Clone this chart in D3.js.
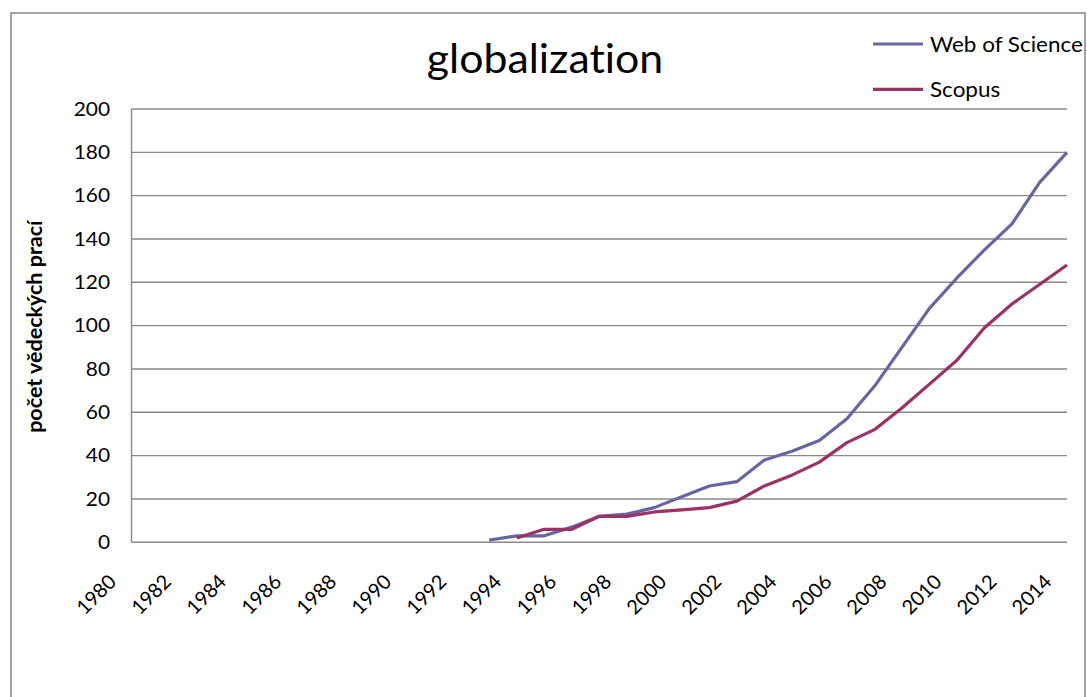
<!DOCTYPE html>
<html>
<head>
<meta charset="utf-8">
<script src="https://cdn.jsdelivr.net/npm/d3@7"></script>
<style>
  html, body { margin: 0; padding: 0; background: #fff; }
  svg { display: block; }
  text { font-family: Lato, "Open Sans", sans-serif; fill: #000; font-variant-ligatures: none; }
</style>
</head>
<body>
<svg id="chart" width="1087" height="697"></svg>
<script>
// Publication counts per year, 1980–2014 (null = no records that year)
const years = d3.range(1980, 2015);
const webOfScience = [
  null, null, null, null, null, null, null, null, null, null,
  null, null, null, 1, 3, 3, 7, 12, 13, 16,
  21, 26, 28, 38, 42, 47, 57, 72, 90, 108,
  122, 135, 147, 166, 180
];
const scopus = [
  null, null, null, null, null, null, null, null, null, null,
  null, null, null, null, 2, 6, 6, 12, 12, 14,
  15, 16, 19, 26, 31, 37, 46, 52, 62, 73,
  84, 99, 110, 119, 128
];
const yTicks = [0, 20, 40, 60, 80, 100, 120, 140, 160, 180, 200];
const xLabelYears = years.filter(y => (y - 1980) % 2 === 0);

const seriesNames = ["Web of Science", "Scopus"];
const seriesColors = ["#6666a3", "#9b3167"];
const seriesValues = [webOfScience, scopus];

const svg = d3.select("#chart");
const plot = { left: 131.5, right: 1067, top: 109, bottom: 542.3 };

// outer chart frame
svg.append("rect")
  .attr("x", 11).attr("y", 13)
  .attr("width", 1074).attr("height", 720)
  .attr("fill", "#fff")
  .attr("stroke", "#868686").attr("stroke-width", 1.5);

const x = d3.scalePoint()
  .domain(years)
  .range([plot.left, plot.right])
  .padding(0);

const y = d3.scaleLinear()
  .domain([0, 200])
  .range([plot.bottom, plot.top]);

// horizontal gridlines
svg.append("g")
  .selectAll("line")
  .data(yTicks)
  .join("line")
  .attr("x1", plot.left).attr("x2", plot.right)
  .attr("y1", d => y(d)).attr("y2", d => y(d))
  .attr("stroke", "#898989").attr("stroke-width", 1.4);

// vertical axis line
svg.append("line")
  .attr("x1", plot.left).attr("x2", plot.left)
  .attr("y1", plot.top).attr("y2", plot.bottom)
  .attr("stroke", "#898989").attr("stroke-width", 1.4);

// y tick labels (slightly widened glyphs)
const tickStretch = 1.1;
const yAxis = d3.axisLeft(y).tickValues(yTicks).tickSize(0).tickPadding(0);
const gy = svg.append("g")
  .attr("transform", `translate(${plot.left},0)`)
  .call(yAxis);
gy.select(".domain").remove();
gy.selectAll("text")
  .style("font-family", "Lato, sans-serif")
  .attr("font-size", 19)
  .attr("fill", "#000")
  .attr("x", -21.5 / tickStretch)
  .attr("transform", `scale(${tickStretch},1)`);

// x tick labels, rotated
svg.append("g")
  .selectAll("text")
  .data(xLabelYears)
  .join("text")
  .attr("transform", d => `translate(${x(d) - 14},${583}) rotate(-45)`)
  .attr("text-anchor", "end")
  .attr("font-size", 20)
  .text(d => d);

// y axis title
svg.append("text")
  .attr("transform", `translate(42,${(plot.top + plot.bottom) / 2 + 1}) rotate(-90)`)
  .attr("text-anchor", "middle")
  .attr("font-size", 21.5)
  .attr("font-weight", "bold")
  .text("počet vědeckých prací");

// chart title
svg.append("text")
  .attr("transform", "translate(545,73) scale(1.07,1)")
  .attr("text-anchor", "middle")
  .attr("font-size", 40)
  .text("globalization");

// series lines
const line = d3.line()
  .defined(d => d.v != null)
  .x(d => x(d.year))
  .y(d => y(d.v));

seriesValues.forEach((vals, i) => {
  const pts = years.map((yr, j) => ({ year: yr, v: vals[j] }));
  svg.append("path")
    .datum(pts)
    .attr("fill", "none")
    .attr("stroke", seriesColors[i])
    .attr("stroke-width", 3.2)
    .attr("stroke-linejoin", "round")
    .attr("d", line);
});

// legend
const legend = svg.append("g");
const legendY = [44, 89.3];
const legendBaseline = [51.7, 96.5];
seriesNames.forEach((name, i) => {
  legend.append("line")
    .attr("x1", 873).attr("x2", 923)
    .attr("y1", legendY[i]).attr("y2", legendY[i])
    .attr("stroke", seriesColors[i]).attr("stroke-width", 3.2);
  legend.append("text")
    .attr("transform", `translate(930,${legendBaseline[i]}) scale(1.07,1)`)
    .attr("font-size", 21)
    .text(name);
});
</script>
</body>
</html>
